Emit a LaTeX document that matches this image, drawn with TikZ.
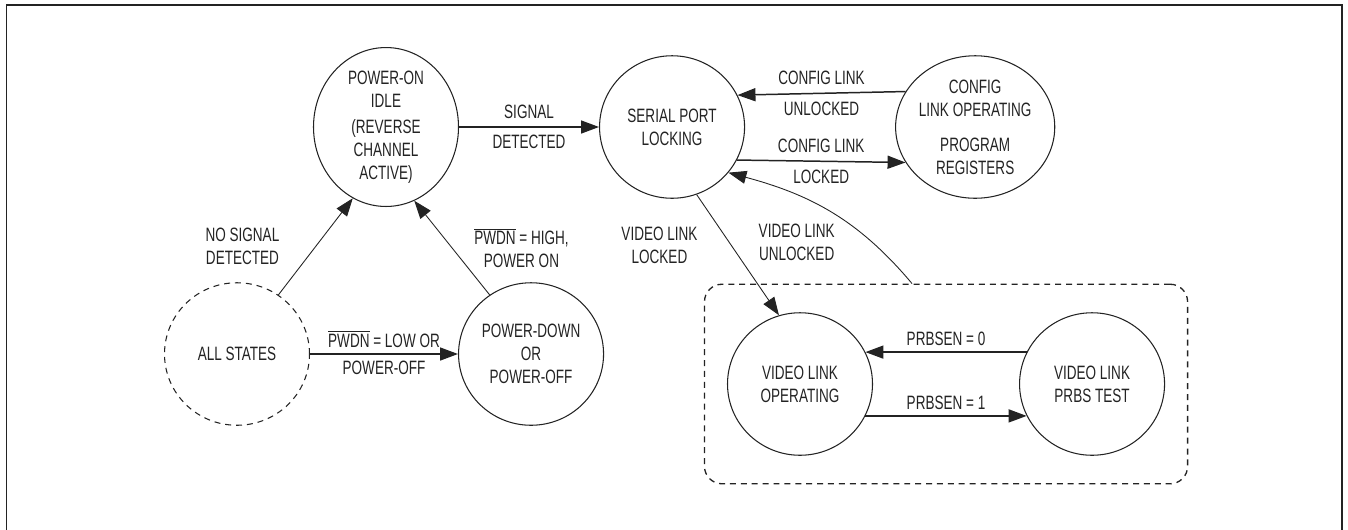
\documentclass[tikz,border=0pt]{standalone}
\usepackage{fontspec}
\setmainfont{Liberation Sans}[FakeStretch=0.7]
\usepackage{tikz}
\usetikzlibrary{shapes.geometric, arrows.meta, positioning, fit}
\definecolor{inkgray}{RGB}{35,35,35}

\begin{document}
\begin{tikzpicture}[
    color=inkgray,
    every node/.style={font=\fontsize{11}{13}\selectfont, align=center},
    state/.style={draw, ellipse, line width=0.6pt, minimum width=2.9cm, minimum height=2.85cm, inner sep=0pt},
    anystate/.style={state, dashed, dash pattern=on 3.4pt off 2.8pt},
    arr/.style={-{Triangle[length=0.36cm, width=0.26cm]}, line width=0.85pt},
    thinarr/.style={-{Triangle[length=0.36cm, width=0.26cm]}, line width=0.5pt}
]
\useasboundingbox (0,0) rectangle (26.96,-10.58);
\draw[line width=1.1pt] (0.13,-10.7) |- (26.84,-0.1) -- (26.84,-10.7);

\node[state] at (7.72,-2.54) (poweron) {POWER-ON\\IDLE\\[2pt](REVERSE\\CHANNEL\\ACTIVE)};
\node[state, right=2.8cm of poweron] (serial) {SERIAL PORT\\LOCKING};
\node[state, right=3.0cm of serial] (config) {CONFIG\\LINK OPERATING\\[7pt]PROGRAM\\REGISTERS};
\node[anystate] at (4.74,-7.08) (allstates) {ALL STATES};
\node[state, right=2.96cm of allstates] (powerdown) {POWER-DOWN\\OR\\POWER-OFF};
\node[state] at (16.0,-7.68) (vidop) {VIDEO LINK\\OPERATING};
\node[state, right=2.92cm of vidop] (vidprbs) {VIDEO LINK\\PRBS TEST};
\node[draw, dashed, dash pattern=on 3.4pt off 2.8pt, line width=0.75pt, rounded corners=0.35cm,
      inner xsep=0.45cm, inner ysep=0.56cm, fit=(vidop)(vidprbs)] (vidbox) {};

\draw[arr] (poweron) -- node[above=1pt]{SIGNAL} node[below=1pt]{DETECTED} (serial);
\draw[arr] (config.153.6) -- node[above=1pt]{CONFIG LINK} node[below=1pt]{UNLOCKED} (serial.26.4);
\draw[arr] (serial.-27) -- node[above=1pt]{CONFIG LINK} node[below=1pt]{LOCKED} (config.-153);
\draw[arr] (allstates) -- node[above=0pt]{$\overline{\mbox{PWDN}}$ = LOW OR} node[below=0pt]{POWER-OFF} (powerdown);
\draw[thinarr] (allstates.55) -- node[left=0.6cm]{NO SIGNAL\\DETECTED} (poweron.-115);
\draw[thinarr] (powerdown.125) -- node[right=0.32cm]{$\overline{\mbox{PWDN}}$ = HIGH,\\POWER ON} (poweron.-69);
\draw[thinarr] (serial.-70) -- node[pos=0.42, left=0.55cm]{VIDEO LINK\\LOCKED} (vidop.107);
\draw[thinarr] ([xshift=-0.68cm]vidbox.north) to[out=130, in=-15] node[pos=0.25, left=0.62cm]{VIDEO LINK\\UNLOCKED} (serial.-39);
\draw[arr] (vidprbs.154) -- node[above=0pt]{PRBSEN = 0} (vidop.26);
\draw[arr] (vidop.-26) -- node[above=0pt]{PRBSEN = 1} (vidprbs.-154);

\end{tikzpicture}
\end{document}
